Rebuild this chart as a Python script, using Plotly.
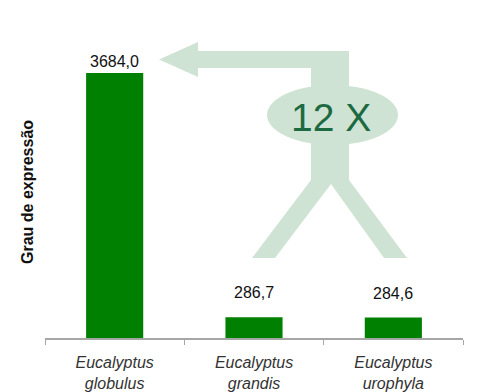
import plotly.graph_objects as go

species = ["globulus", "grandis", "urophyla"]
values = [3684.0, 286.7, 284.6]
value_labels = ["3684,0", "286,7", "284,6"]
label_shift = [1, 14, 14]
fold_text = "12 X"
y_title = "Grau de expressão"

W, H = 483, 392
L, R, T, B = 45, 20, 20, 54
pw, ph = W - L - R, H - T - B

def px(x, y):
    return (x - L) / pw, (H - B - y) / ph

def path(points):
    parts = []
    for i, (x, y) in enumerate(points):
        a, b = px(x, y)
        parts.append(("M" if i == 0 else "L") + f"{a:.4f},{b:.4f}")
    return " ".join(parts) + " Z"

cats = [f"<i>Eucalyptus</i><br><i>{s}</i>" for s in species]

fig = go.Figure(go.Bar(
    x=cats, y=values, width=0.41, marker=dict(color="#008000", line=dict(width=0)),
    hoverinfo="skip",
))

light = "#cfe3d4"
shapes = [
    dict(type="path", xref="paper", yref="paper", fillcolor=light, line=dict(width=0), layer="above",
         path=path([(159, 59.5), (198, 42), (198, 51), (349, 51), (349, 100), (311, 100), (311, 68), (198, 68), (198, 77)])),
    dict(type="path", xref="paper", yref="paper", fillcolor=light, line=dict(width=0), layer="above",
         path=path([(311, 130), (349, 130), (349, 180), (407, 258), (384, 258), (331, 184), (275, 258), (252, 258), (311, 180)])),
]
x0, y0 = px(267, 145)
x1, y1 = px(398, 85)
shapes.append(dict(type="circle", xref="paper", yref="paper", x0=x0, y0=y0, x1=x1, y1=y1,
                   fillcolor=light, line=dict(width=0), layer="above"))

annotations = []
for c, v, t, s in zip(cats, values, value_labels, label_shift):
    annotations.append(dict(x=c, y=v, text=t, showarrow=False, xanchor="center", yanchor="bottom", yshift=s,
                            font=dict(size=16, color="#111111", family="Liberation Sans")))
tx, ty = px(331, 117)
annotations.append(dict(x=tx, y=ty, xref="paper", yref="paper", text=fold_text, showarrow=False,
                        xanchor="center", yanchor="middle",
                        font=dict(size=39, color="#1d6a42", family="Liberation Sans")))
ax_, ay_ = px(27, 192)
annotations.append(dict(x=ax_, y=ay_, xref="paper", yref="paper", text=f"<b>{y_title}</b>", showarrow=False,
                        xanchor="center", yanchor="middle",
                        textangle=-90, font=dict(size=16, color="#111111", family="Liberation Sans")))

fig.update_layout(
    width=W, height=H, margin=dict(l=L, r=R, t=T, b=B, pad=0, autoexpand=False),
    paper_bgcolor="white", plot_bgcolor="white", showlegend=False,
    shapes=shapes, annotations=annotations,
    font=dict(family="Liberation Sans", color="#333333"),
    xaxis=dict(showline=True, linecolor="#a6a6a6", linewidth=1.5, ticks="outside", tickson="boundaries",
               ticklen=5, tickcolor="#a6a6a6", tickfont=dict(size=16, color="#333333"),
               ticklabelstandoff=9, automargin=False,
               showgrid=False, zeroline=False, fixedrange=True),
    yaxis=dict(range=[0, 4420], showline=False, showticklabels=False, ticks="", showgrid=False,
               zeroline=False, fixedrange=True, automargin=False),
)

fig.write_html("out.html")
